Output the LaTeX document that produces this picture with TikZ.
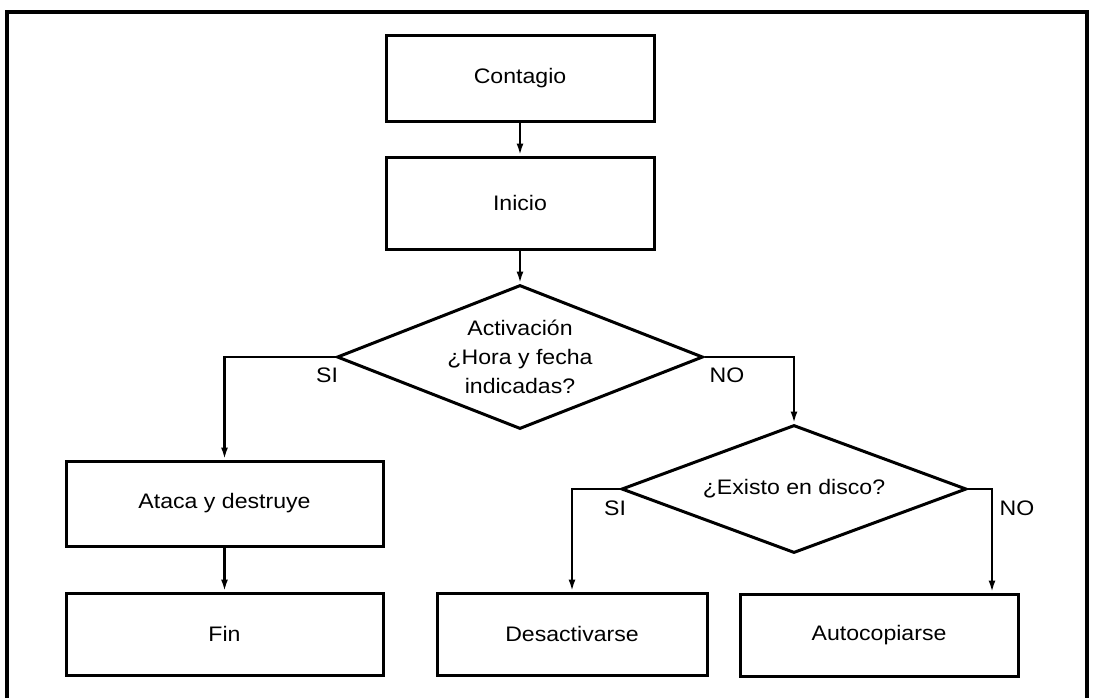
\documentclass[tikz,border=0pt]{standalone}
\usepackage{fontspec}
\setmainfont[FakeStretch=1.1]{Liberation Sans}
\usetikzlibrary{shapes.geometric,arrows.meta,positioning}

\begin{document}
\begin{tikzpicture}[x=0.5pt,y=-0.5pt,
        procbox/.style={rectangle, draw, line width=1.5pt, inner sep=0pt,
                        minimum width=134pt, minimum height=41pt,
                        font=\fontsize{10.5}{14.5}\selectfont},
        decision/.style={diamond, draw, line width=1.5pt, inner sep=0pt,
                         aspect=2.6, align=center,
                         font=\fontsize{10.5}{14.5}\selectfont},
        lbl/.style={inner sep=0pt, font=\fontsize{10.5}{12}\selectfont},
        flow/.style={-{Latex[length=6pt,width=3.5pt]}, line width=1.2pt}]
        \useasboundingbox (0,0) rectangle (1095,698);
        % frame, open at the bottom
        \draw[line width=1.7pt] (7,698) -- (7,12) -- (1087,12) -- (1087,698);
        \node[procbox, minimum height=43pt] (contagio) at (520,78) {Contagio};
        \node[procbox, minimum height=46pt] (inicio) at (520,203) {Inicio};
        \node[decision, minimum width=183pt, minimum height=72pt] (activa) at (520,357)
            {Activación\\¿Hora y fecha\\indicadas?};
        \node[procbox, minimum width=158.5pt, minimum height=42.5pt] (ataca) at (224.5,503.5)
            {Ataca y destruye};
        \node[procbox, minimum width=158.5pt] (fin) at (224.5,634) {Fin};
        \node[decision, minimum width=172.5pt, minimum height=64pt] (existo) at (794,489)
            {¿Existo en disco?};
        \node[procbox, minimum width=135pt] (desact) at (572,634) {Desactivarse};
        \node[procbox, minimum width=139pt] (autoc) at (879,635) {Autocopiarse};
        \coordinate (nocol) at (992,0);
        \draw[flow] (contagio.south) -- (inicio.north);
        \draw[flow] (inicio.south) -- (activa.north);
        \draw[flow] (activa.west) -| (ataca.north);
        \draw[flow] (activa.east) -| (existo.north);
        \draw[flow] (ataca.south) -- (fin.north);
        \draw[flow] (existo.west) -| (desact.north);
        \draw[flow] (existo.east) -| (nocol |- autoc.north);
        \node[lbl] (si1) at (327,375) {SI};
        \node[lbl] (no1) at (727,375) {NO};
        \node[lbl] (si2) at (615,508) {SI};
        \node[lbl] (no2) at (1017,508) {NO};
\end{tikzpicture}
\end{document}
